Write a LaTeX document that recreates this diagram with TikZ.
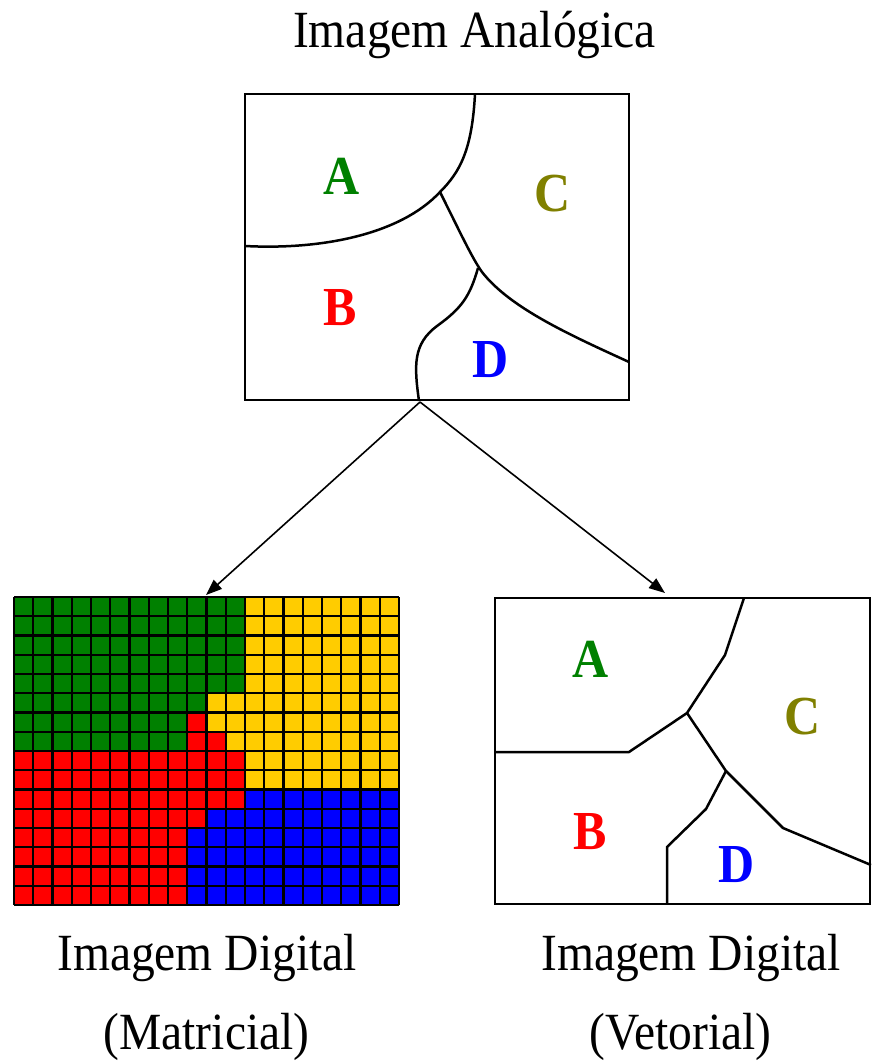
\documentclass[tikz,border=0pt]{standalone}
\usepackage{fontspec}
\setmainfont{Liberation Serif}
\usepackage{graphicx}
\usetikzlibrary{arrows.meta}
\definecolor{cgreen}{RGB}{0,128,0}
\definecolor{cyellow}{RGB}{255,204,0}
\definecolor{cred}{RGB}{255,0,0}
\definecolor{cblue}{RGB}{0,0,255}
\definecolor{colive}{RGB}{128,128,0}
\newcommand{\vstretch}[1]{\scalebox{1}[1.1]{#1}}
\begin{document}
\begin{tikzpicture}[x=1pt,y=-1pt,
  box/.style={draw, line width=2.5pt, inner sep=0pt},
  caption/.style={font=\fontsize{47.5}{57}\selectfont, anchor=base, inner sep=0pt},
  region/.style={font=\fontsize{50}{60}\selectfont\bfseries, inner sep=0pt, anchor=center},
  border/.style={line width=2.5pt, line join=round},
  arr/.style={line width=1.6pt, -{Triangle[length=16pt,width=12pt]}},
  gridline/.style={line width=2.4pt, black}
]
\useasboundingbox (0,0) rectangle (871,1063);

% captions
\node[caption] (tA) at (474.5,47) {\vstretch{Imagem Analógica}};
\node[caption] (tM1) at (207,970) {\vstretch{Imagem Digital}};
\node[caption] (tM2) at (206.5,1049) {\vstretch{(Matricial)}};
\node[caption] (tV1) at (691,970) {\vstretch{Imagem Digital}};
\node[caption] (tV2) at (680.5,1049) {\vstretch{(Vetorial)}};

% analog image
\node[box, minimum width=384pt, minimum height=306pt] (analog) at (437,247) {};
\draw[border] (475,94) .. controls (472,150) and (460,172) .. (440,192)
  .. controls (400,235) and (320,250) .. (245,246);
\draw[border] (440,192) .. controls (460,232) and (472,258) .. (482,272)
  .. controls (510,308) and (570,335) .. (629,362);
\draw[border] (478,268) .. controls (470,296) and (462,308) .. (437,326)
  .. controls (413,344) and (414,365) .. (419,401);
\node[region, text=cgreen] (aA) at (342,176) {\vstretch{A}};
\node[region, text=colive] (aC) at (553,194) {\vstretch{C}};
\node[region, text=cred] (aB) at (340,308) {\vstretch{B}};
\node[region, text=cblue] (aD) at (491,360) {\vstretch{D}};

% matrix image
\begin{scope}[shift={(14,597)}, x=19.25pt, y=-19.25pt]
  \fill[cgreen] (0,0) -- (12,0) -- (12,5) -- (10,5) -- (10,6) -- (9,6) -- (9,8) -- (0,8) -- cycle;
  \fill[cyellow] (12,0) -- (20,0) -- (20,10) -- (12,10) -- (12,8) -- (11,8) -- (11,7) -- (10,7) -- (10,5) -- (12,5) -- cycle;
  \fill[cred] (0,8) -- (9,8) -- (9,6) -- (10,6) -- (10,7) -- (11,7) -- (11,8) -- (12,8) -- (12,11) -- (10,11) -- (10,12) -- (9,12) -- (9,16) -- (0,16) -- cycle;
  \fill[cblue] (12,10) -- (20,10) -- (20,16) -- (9,16) -- (9,12) -- (10,12) -- (10,11) -- (12,11) -- cycle;
  \foreach \i in {0,...,20} \draw[gridline] (\i,0) -- (\i,16);
  \foreach \j in {0,...,16} \draw[gridline] (0,\j) -- (20,\j);
\end{scope}
\node[minimum width=385pt, minimum height=308pt, inner sep=0pt] (matrix) at (206.5,751) {};

% vector image
\node[box, minimum width=375pt, minimum height=306pt] (vector) at (682.5,751) {};
\draw[border] (744,598) -- (725,655) -- (687,713) -- (629,752) -- (495,752);
\draw[border] (687,713) -- (726,771) -- (783,828) -- (871,865);
\draw[border] (726,771) -- (706,809) -- (667,847) -- (667,904);
\node[region, text=cgreen] (vA) at (591,659) {\vstretch{A}};
\node[region, text=colive] (vC) at (803,717) {\vstretch{C}};
\node[region, text=cred] (vB) at (590,832) {\vstretch{B}};
\node[region, text=cblue] (vD) at (737,865) {\vstretch{D}};

% arrows
\coordinate (src) at (420,402);
\coordinate (tipM) at (206,595);
\coordinate (tipV) at (665,593);
\draw[arr] (src) -- (tipM);
\draw[arr] (src) -- (tipV);
\end{tikzpicture}
\end{document}
